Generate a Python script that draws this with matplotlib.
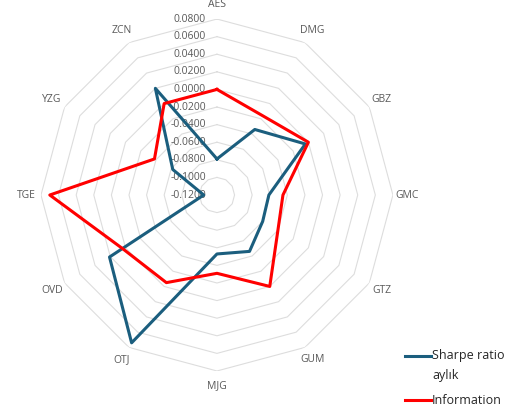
import numpy as np
import matplotlib.pyplot as plt
from matplotlib.lines import Line2D

plt.rcParams['font.family'] = ['Open Sans', 'DejaVu Sans']

# fund codes around the radar, clockwise from the top
categories = ['AES', 'DMG', 'GBZ', 'GMC', 'GTZ', 'GUM',
              'MJG', 'OTJ', 'OVD', 'TGE', 'YZG', 'ZCN']
sharpe = [-0.079, -0.034, -0.004, -0.061, -0.060, -0.046,
          -0.053, 0.074, 0.021, -0.105, -0.062, 0.020]
information = [0.000, -0.016, 0.000, -0.045, -0.040, 0.000,
               -0.031, -0.005, 0.003, 0.070, -0.038, 0.000]
levels = [-0.12, -0.10, -0.08, -0.06, -0.04, -0.02, 0.0, 0.02, 0.04, 0.06, 0.08]

blue = '#1B5E7E'
red = '#FF0000'
grid_col = '#DDDDDD'
text_col = '#595959'

fig = plt.figure(figsize=(5.12, 4.05), dpi=100)
ax = fig.add_axes([0.080, 0.084, 0.6875, 0.869], projection='polar')
ax.set_theta_zero_location('N')
ax.set_theta_direction(-1)
ax.set_ylim(levels[0], levels[-1])
ax.grid(False)
ax.spines['polar'].set_visible(False)
ax.set_xticks([])
ax.set_yticks([])

angles = np.arange(len(categories)) * 2 * np.pi / len(categories)
closed = np.append(angles, angles[0])

# polygon rings (no spokes)
for lv in levels[1:]:
    ax.plot(closed, [lv] * len(closed), color=grid_col, lw=0.8, zorder=1)

# radial value labels along the top
for lv in levels:
    ax.annotate(f'{lv:.4f}', xy=(0, lv), xytext=(-8, 0), textcoords='offset points',
                ha='right', va='center', fontsize=7.5, color=text_col, zorder=2)

for a, name in zip(angles, categories):
    ax.text(a, 0.0965, name, ha='center', va='center', fontsize=7.5,
            color=text_col, clip_on=False)

ax.plot(closed, sharpe + sharpe[:1], color=blue, lw=2.2, zorder=3)
ax.plot(closed, information + information[:1], color=red, lw=2.2, zorder=4)

# legend
fig.add_artist(Line2D([405 / 512, 431 / 512], [1 - 356 / 405] * 2, color=blue, lw=2.2))
fig.text(432 / 512, 1 - 356 / 405, 'Sharpe ratio', fontsize=9, color='#262626', va='center')
fig.text(432 / 512, 1 - 375 / 405, 'aylık', fontsize=9, color='#262626', va='center')
fig.add_artist(Line2D([405 / 512, 431 / 512], [1 - 400 / 405] * 2, color=red, lw=2.2))
fig.text(432 / 512, 1 - 400 / 405, 'Information', fontsize=9, color='#262626', va='center')

fig.savefig('out.png', dpi=100)
